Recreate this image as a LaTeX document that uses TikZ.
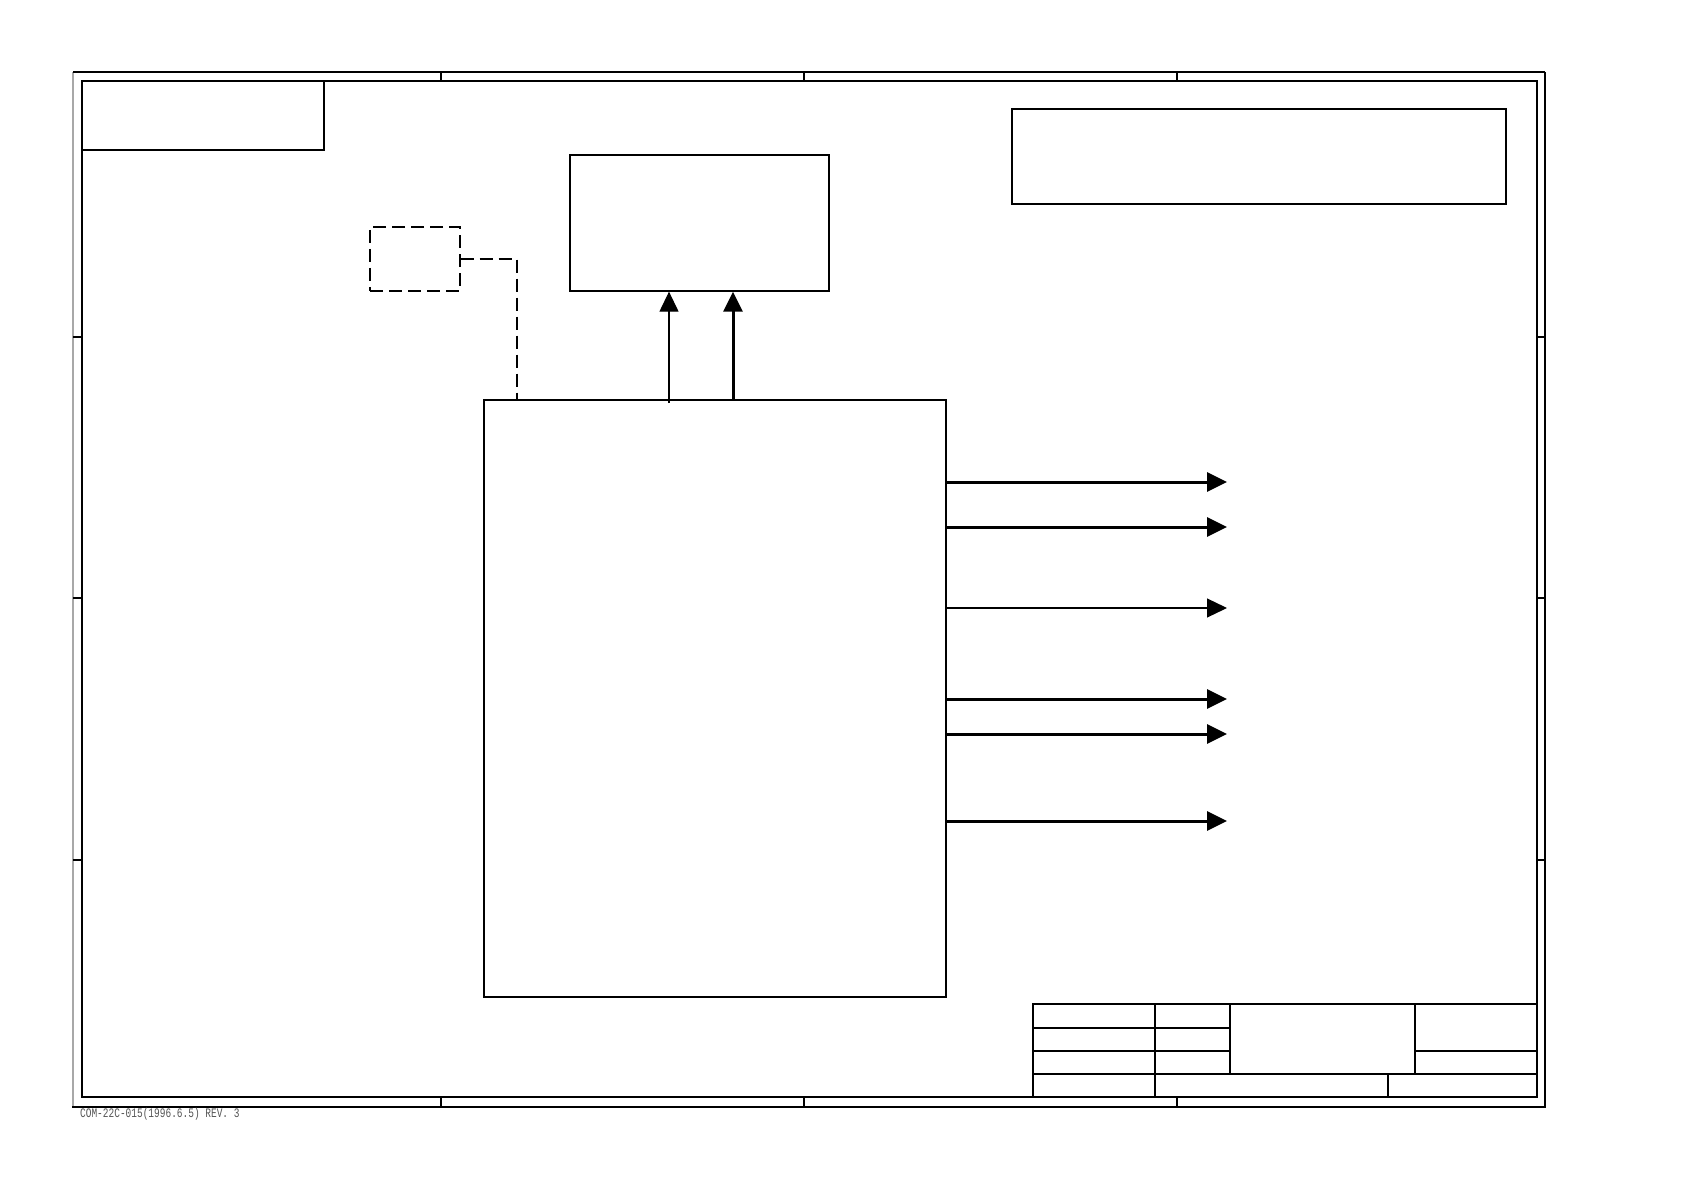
\documentclass[tikz,border=0pt]{standalone}
\usepackage{fontspec}
\usetikzlibrary{arrows.meta,positioning,calc}
\newfontfamily\plotfont{Liberation Mono}
\definecolor{edgegray}{HTML}{A8A8A8}
\definecolor{formtext}{HTML}{555555}

\begin{document}
\begin{tikzpicture}[x=1pt, y=-1pt,
  blk/.style={draw, line width=1.3pt, inner sep=0pt},
  sig/.style={-{Triangle[length=20pt,width=19pt]}},
  thin sig/.style={sig, line width=1.2pt},
  bold sig/.style={sig, line width=3pt},
  ]
  \useasboundingbox (0,0) rectangle (1684,1190);

  % sheet frame
  \draw[line width=1.2pt, edgegray] (73,72) -- (73,1107);
  \draw[line width=1.3pt] (73,72) -- (1545,72);
  \draw[line width=1.6pt] (1545,72) -- (1545,1107);
  \draw[line width=2.4pt] (72,1107) -- (1546,1107);
  \draw[line width=1.3pt] (82,81) rectangle (1537,1097);
  \foreach \x in {441,804,1177} {
    \draw[line width=1.3pt] (\x,72) -- (\x,81);
    \draw[line width=1.3pt] (\x,1097) -- (\x,1107);
  }
  \foreach \y in {337,598,860} {
    \draw[line width=1.3pt] (73,\y) -- (82,\y);
    \draw[line width=1.3pt] (1537,\y) -- (1545,\y);
  }
  \draw[line width=1.3pt] (82,150) -- (324,150) -- (324,81);

  % title block
  \draw[line width=1.3pt] (1033,1097) -- (1033,1004) -- (1537,1004);
  \draw[line width=1.3pt] (1155,1004) -- (1155,1097);
  \draw[line width=1.3pt] (1230,1004) -- (1230,1074);
  \draw[line width=1.3pt] (1415,1004) -- (1415,1074);
  \draw[line width=1.3pt] (1388,1074) -- (1388,1097);
  \draw[line width=1.3pt] (1033,1028) -- (1230,1028);
  \draw[line width=1.3pt] (1033,1051) -- (1230,1051);
  \draw[line width=1.3pt] (1415,1051) -- (1537,1051);
  \draw[line width=1.3pt] (1033,1074) -- (1537,1074);

  % blocks
  \node[blk, minimum width=494pt, minimum height=95pt] (title) at (1259,156.5) {};
  \node[blk, minimum width=259pt, minimum height=136pt] (disp) at (699.5,223) {};
  \node[blk, dash pattern=on 13pt off 6pt, minimum width=90pt, minimum height=64pt] (opt) at (415,259) {};
  \node[blk, minimum width=462pt, minimum height=597pt] (main) at (715,698.5) {};

  % connections
  \draw[line width=1.2pt, dash pattern=on 13pt off 6pt] (opt.east) -| (main.north -| 517,0);
  \draw[thin sig] (669,403) -- (669,0 |- disp.south);
  \draw[bold sig] (733,0 |- main.north) -- (733,0 |- disp.south);
  \foreach \y/\s [count=\i] in {482/bold, 527/bold, 608/thin, 699/bold, 734/bold, 821/bold} {
    \coordinate (out\i) at (1227,\y);
    \draw[\s\space sig] (main.east |- out\i) -- (out\i);
  }

  \node[anchor=base west, inner sep=0pt, font=\plotfont\fontsize{13}{13}\selectfont,
        text=formtext, xscale=0.73] (formno) at (80,1117) {COM-22C-015(1996.6.5) REV. 3};
\end{tikzpicture}
\end{document}
